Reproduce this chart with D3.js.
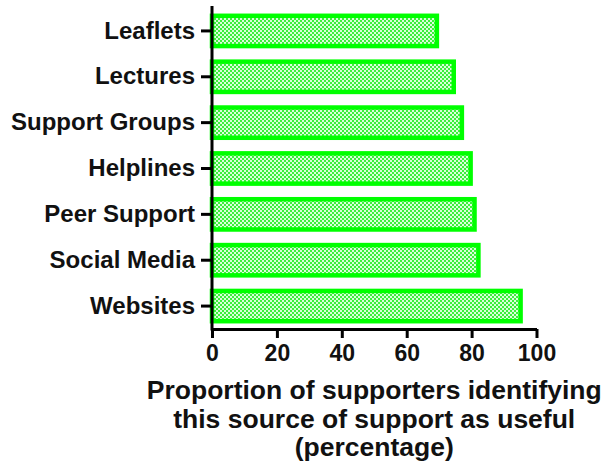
<!DOCTYPE html>
<html>
<head>
<meta charset="utf-8">
<script src="https://cdn.jsdelivr.net/npm/d3@7"></script>
<style>
  html, body { margin: 0; padding: 0; background: #ffffff; }
  svg { display: block; }
  text { font-family: "Liberation Sans", Arial, sans-serif; font-weight: bold; fill: #111; }
</style>
</head>
<body>
<svg id="chart" width="605" height="468"></svg>
<script>
const categories = ["Leaflets", "Lectures", "Support Groups", "Helplines", "Peer Support", "Social Media", "Websites"];
const values = [69.3, 74.5, 77.0, 79.7, 80.9, 82.1, 95.1];
const xTicks = [0, 20, 40, 60, 80, 100];
const titleLines = ["Proportion of supporters identifying", "this source of support as useful", "(percentage)"];

const svg = d3.select("#chart");

const defs = svg.append("defs");
const pat = defs.append("pattern")
  .attr("id", "checker")
  .attr("patternUnits", "userSpaceOnUse")
  .attr("width", 4).attr("height", 4);
pat.append("rect").attr("width", 4).attr("height", 4).attr("fill", "#d9ffd9");
pat.append("rect").attr("x", 0).attr("y", 0).attr("width", 2).attr("height", 2).attr("fill", "#3cef3c");
pat.append("rect").attr("x", 2).attr("y", 2).attr("width", 2).attr("height", 2).attr("fill", "#3cef3c");

const x = d3.scaleLinear().domain([0, 100]).range([212, 536.5]);
const y = d3.scaleBand().domain(categories).range([8, 329]).paddingInner(0.34).paddingOuter(0.17);

// bars
svg.append("g").selectAll("rect")
  .data(categories)
  .join("rect")
  .attr("x", x(0))
  .attr("y", d => y(d))
  .attr("width", (d, i) => x(values[i]) - x(0))
  .attr("height", y.bandwidth())
  .attr("fill", "url(#checker)")
  .attr("stroke", "#00ff00")
  .attr("stroke-width", 4.5);

// x axis
const xAxis = svg.append("g")
  .attr("transform", "translate(0,329)")
  .call(d3.axisBottom(x).tickValues(xTicks).tickFormat(d3.format("d")).tickSizeInner(9).tickSizeOuter(0).tickPadding(7));
xAxis.select(".domain").attr("stroke", "#000").attr("stroke-width", 3);
xAxis.selectAll(".tick line").attr("stroke", "#000").attr("stroke-width", 3);
xAxis.selectAll(".tick text").style("font-size", "23px").style("font-family", "'Liberation Sans', Arial, sans-serif").style("font-weight", "bold").attr("fill", "#111");

// y axis
const yAxis = svg.append("g")
  .attr("transform", "translate(212,0)")
  .call(d3.axisLeft(y).tickSizeInner(11).tickSizeOuter(0).tickPadding(6));
yAxis.select(".domain").attr("stroke", "#000").attr("stroke-width", 3)
  .attr("d", "M0,6V330.5");
yAxis.selectAll(".tick line").attr("stroke", "#000").attr("stroke-width", 3);
yAxis.selectAll(".tick text").style("font-size", "24px").style("font-family", "'Liberation Sans', Arial, sans-serif").style("font-weight", "bold").attr("fill", "#111");

// x-axis title
const cx = (x.range()[0] + x.range()[1]) / 2;
svg.append("g").selectAll("text")
  .data(titleLines)
  .join("text")
  .attr("x", cx)
  .attr("y", (d, i) => 399 + i * 28.5)
  .attr("text-anchor", "middle")
  .style("font-size", "26.5px")
  .text(d => d);
</script>
</body>
</html>
